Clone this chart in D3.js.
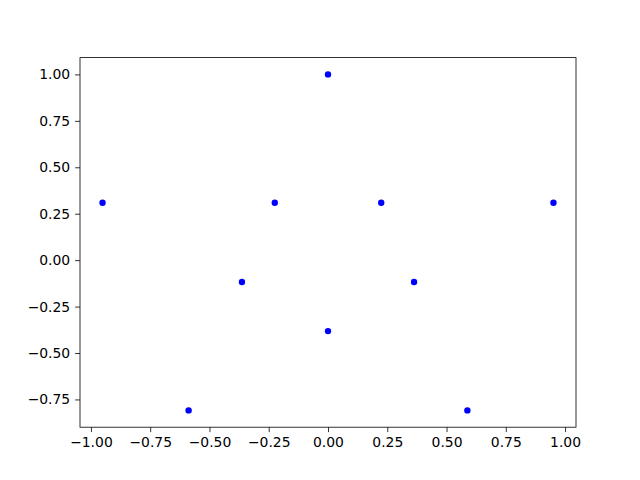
<!DOCTYPE html>
<html>
<head>
<meta charset="utf-8">
<script src="https://cdn.jsdelivr.net/npm/d3@7"></script>
<style>
  body { margin: 0; background: #fff; }
  text { font-family: "DejaVu Sans", sans-serif; }
</style>
</head>
<body>
<div id="chart"></div>
<script>
// star points, outer ring then inner ring
var xValues = [0.0, -0.951, -0.588, 0.588, 0.951, 0.2245, -0.2245, -0.363, 0.363, 0.0];
var yValues = [1.0, 0.309, -0.809, -0.809, 0.309, 0.309, 0.309, -0.118, -0.118, -0.382];
var xTicks = [-1.0, -0.75, -0.5, -0.25, 0.0, 0.25, 0.5, 0.75, 1.0];
var yTicks = [-0.75, -0.5, -0.25, 0.0, 0.25, 0.5, 0.75, 1.0];

var width = 640, height = 480;
var plotLeft = 80, plotRight = 576, plotTop = 57.6, plotBottom = 427.2;

var xMin = d3.min(xValues), xMax = d3.max(xValues);
var yMin = d3.min(yValues), yMax = d3.max(yValues);
var xPad = (xMax - xMin) * 0.05, yPad = (yMax - yMin) * 0.05;

var x = d3.scaleLinear().domain([xMin - xPad, xMax + xPad]).range([plotLeft, plotRight]);
var y = d3.scaleLinear().domain([yMin - yPad, yMax + yPad]).range([plotBottom, plotTop]);

var svg = d3.select("#chart").append("svg")
  .attr("width", width)
  .attr("height", height);

var fmt = d3.format(".2f");

var xAxis = svg.append("g")
  .attr("transform", "translate(0," + plotBottom + ")")
  .call(d3.axisBottom(x).tickValues(xTicks).tickFormat(fmt).tickSize(4.9).tickPadding(4.9));

var yAxis = svg.append("g")
  .attr("transform", "translate(" + plotLeft + ",0)")
  .call(d3.axisLeft(y).tickValues(yTicks).tickFormat(fmt).tickSize(4.9).tickPadding(4.9));

[xAxis, yAxis].forEach(function(a) {
  a.select(".domain").remove();
  a.selectAll("line").attr("stroke", "#000").attr("stroke-width", 0.8);
  a.selectAll("text").attr("fill", "#000").style("font-size", "13.9px")
    .style("font-family", "'DejaVu Sans', sans-serif");
});

svg.append("g").selectAll("circle")
  .data(xValues)
  .enter().append("circle")
  .attr("cx", function(d) { return x(d); })
  .attr("cy", function(d, i) { return y(yValues[i]); })
  .attr("r", 3.2)
  .attr("fill", "#0000ff");

svg.append("rect")
  .attr("x", plotLeft)
  .attr("y", plotTop)
  .attr("width", plotRight - plotLeft)
  .attr("height", plotBottom - plotTop)
  .attr("fill", "none")
  .attr("stroke", "#000")
  .attr("stroke-width", 0.8);
</script>
</body>
</html>
